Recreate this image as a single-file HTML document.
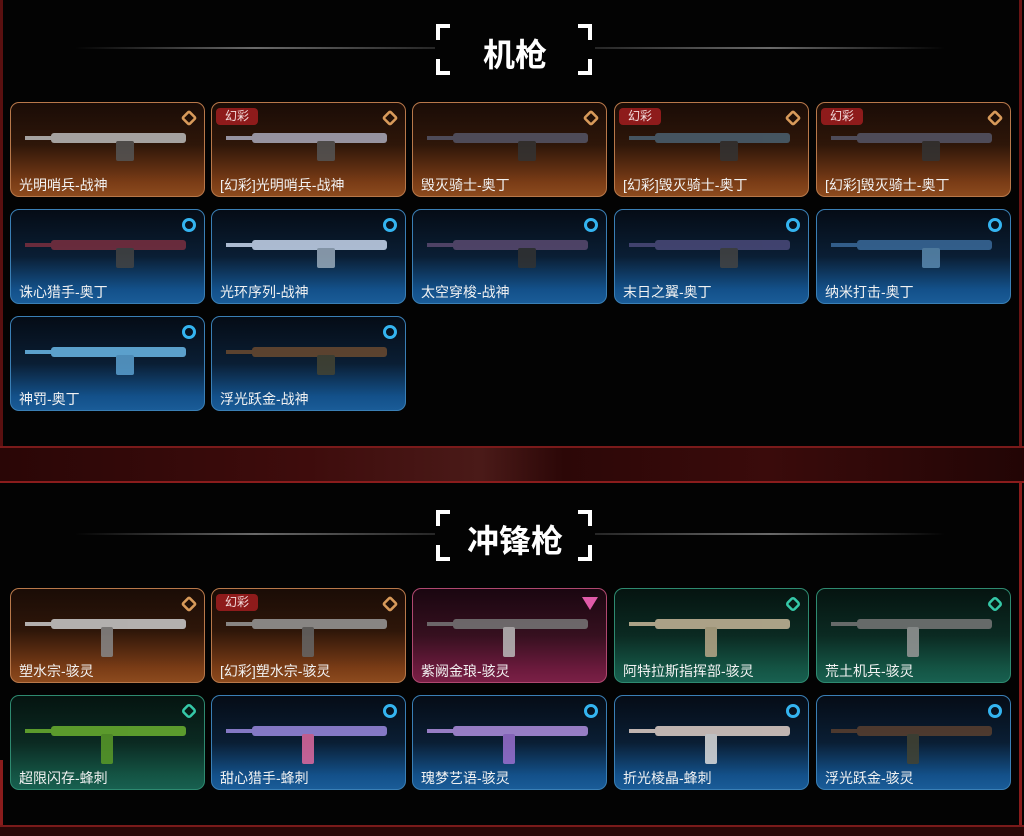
<!DOCTYPE html>
<html><head><meta charset="utf-8"><style>
*{margin:0;padding:0;box-sizing:border-box}
body{width:1024px;height:836px;background:#030303;position:relative;overflow:hidden;font-family:"Liberation Sans","Noto Sans CJK SC",sans-serif;color:#eee}
.band{position:absolute;left:0;width:1024px;top:446px;height:37px;background:linear-gradient(90deg,#2a0606,#3e0c0c 30%,#4a1a18 47%,#2c0707 55%,#3a0b0b 75%,#220505);border-top:2px solid #7a1a1a;border-bottom:2px solid #8a1c1c}
.band2{position:absolute;left:0;width:1024px;top:825px;height:11px;background:#2a0707;border-top:2px solid #7a1a1a}
.vl{position:absolute;width:3px;background:#8a1c1c}
.hl{position:absolute;height:2px;background:linear-gradient(90deg,rgba(120,120,120,0),#6a6a6a 50%,rgba(120,120,120,0.3))}
.hr{position:absolute;height:2px;background:linear-gradient(90deg,rgba(120,120,120,0.3),#6a6a6a 50%,rgba(120,120,120,0))}
.br{position:absolute;width:14px;height:16px;border-color:#fff;border-style:solid;border-width:0}
.title{position:absolute;width:160px;text-align:center;font-size:32px;font-weight:bold;color:#fff}
.c{position:absolute;width:195px;height:95px;border-radius:9px;border:1px solid;overflow:hidden}
.c span.n{position:absolute;left:8px;bottom:1px;font-size:14px;color:#f2f2f2;white-space:nowrap}
.o{border-color:#b8784a;background:linear-gradient(180deg,#1a0c06 0%,#2e1609 45%,#7a3c16 85%,#8c4a1e 100%)}
.b{border-color:#3a7fb5;background:linear-gradient(180deg,#050c16 0%,#0a1e34 50%,#135089 85%,#1a5c98 100%)}
.p{border-color:#b04870;background:linear-gradient(180deg,#1a0610 0%,#36101f 50%,#6a1a3c 85%,#7a2046 100%)}
.gr{border-color:#2e8a70;background:linear-gradient(180deg,#051410 0%,#0b2a22 50%,#145444 85%,#186050 100%)}
.tag{position:absolute;left:4px;top:5px;width:42px;height:17px;border-radius:4px;background:#8e1b1b;font-size:12px;line-height:17px;text-align:center;color:#f3dcdc}
.ic{position:absolute;right:8px;top:8px;width:14px;height:14px}
.ic.oi{border:3px solid #d89a5a;border-radius:3px;transform:rotate(45deg) scale(.85)}
.ic.bi{border:3px solid #34b4f0;border-radius:50%}
.ic.gi{border:3px solid #35c8a8;border-radius:4px;transform:rotate(45deg) scale(.85)}
.ic.pi{width:0;height:0;border-left:8px solid transparent;border-right:8px solid transparent;border-top:13px solid #e05aa8}
.g{position:absolute;left:40px;top:30px;width:135px;height:10px;border-radius:3px;background:var(--gc,#888);opacity:.85}
.g::after{content:"";position:absolute;left:65px;top:8px;width:18px;height:20px;background:var(--gc2,#666);border-radius:2px}
.g::before{content:"";position:absolute;left:-26px;top:3px;width:30px;height:4px;background:var(--gc,#999)}
.s .g::after{left:50px;top:8px;width:12px;height:30px}
</style></head><body>

<div class="vl" style="left:0;top:0;height:446px;background:#5a1010"></div>
<div class="vl" style="left:1019px;top:0;height:446px;background:#6a1414"></div>
<div class="band"></div>
<div class="vl" style="left:1019px;top:483px;height:342px"></div>
<div class="vl" style="left:0;top:760px;height:66px"></div>
<div class="band2"></div>

<div class="hl" style="left:75px;top:47px;width:360px"></div>
<div class="hr" style="left:595px;top:47px;width:350px"></div>
<div class="br" style="left:436px;top:24px;border-left-width:4px;border-top-width:4px"></div>
<div class="br" style="left:578px;top:24px;border-right-width:4px;border-top-width:4px"></div>
<div class="br" style="left:436px;top:59px;border-left-width:4px;border-bottom-width:4px"></div>
<div class="br" style="left:578px;top:59px;border-right-width:4px;border-bottom-width:4px"></div>
<div class="title" style="left:435px;top:30px">机枪</div>

<div class="hl" style="left:75px;top:533px;width:360px"></div>
<div class="hr" style="left:595px;top:533px;width:350px"></div>
<div class="br" style="left:436px;top:510px;border-left-width:4px;border-top-width:4px"></div>
<div class="br" style="left:578px;top:510px;border-right-width:4px;border-top-width:4px"></div>
<div class="br" style="left:436px;top:545px;border-left-width:4px;border-bottom-width:4px"></div>
<div class="br" style="left:578px;top:545px;border-right-width:4px;border-bottom-width:4px"></div>
<div class="title" style="left:435px;top:516px">冲锋枪</div>

<div class="c o" style="left:10px;top:102px"><div class="g" style="--gc:#bbb;--gc2:#555"></div><div class="ic oi"></div><span class="n">光明哨兵-战神</span></div>
<div class="c o" style="left:211px;top:102px"><div class="g" style="--gc:#aab;--gc2:#555"></div><div class="tag">幻彩</div><div class="ic oi"></div><span class="n">[幻彩]光明哨兵-战神</span></div>
<div class="c o" style="left:412px;top:102px"><div class="g" style="--gc:#556;--gc2:#333"></div><div class="ic oi"></div><span class="n">毁灭骑士-奥丁</span></div>
<div class="c o" style="left:614px;top:102px"><div class="g" style="--gc:#4a6070;--gc2:#333"></div><div class="tag">幻彩</div><div class="ic oi"></div><span class="n">[幻彩]毁灭骑士-奥丁</span></div>
<div class="c o" style="left:816px;top:102px"><div class="g" style="--gc:#556;--gc2:#333"></div><div class="tag">幻彩</div><div class="ic oi"></div><span class="n">[幻彩]毁灭骑士-奥丁</span></div>

<div class="c b" style="left:10px;top:209px"><div class="g" style="--gc:#7a3040;--gc2:#444"></div><div class="ic bi"></div><span class="n">诛心猎手-奥丁</span></div>
<div class="c b" style="left:211px;top:209px"><div class="g" style="--gc:#c8d8ee;--gc2:#9ab"></div><div class="ic bi"></div><span class="n">光环序列-战神</span></div>
<div class="c b" style="left:412px;top:209px"><div class="g" style="--gc:#5a4a70;--gc2:#333"></div><div class="ic bi"></div><span class="n">太空穿梭-战神</span></div>
<div class="c b" style="left:614px;top:209px"><div class="g" style="--gc:#4a4a7a;--gc2:#444"></div><div class="ic bi"></div><span class="n">末日之翼-奥丁</span></div>
<div class="c b" style="left:816px;top:209px"><div class="g" style="--gc:#3a6a9a;--gc2:#5a8ab0"></div><div class="ic bi"></div><span class="n">纳米打击-奥丁</span></div>

<div class="c b" style="left:10px;top:316px"><div class="g" style="--gc:#6ab8e8;--gc2:#5aa0d0"></div><div class="ic bi"></div><span class="n">神罚-奥丁</span></div>
<div class="c b" style="left:211px;top:316px"><div class="g" style="--gc:#6a4a30;--gc2:#443"></div><div class="ic bi"></div><span class="n">浮光跃金-战神</span></div>

<div class="c o s" style="left:10px;top:588px"><div class="g" style="--gc:#ccc;--gc2:#888"></div><div class="ic oi"></div><span class="n">塑水宗-骇灵</span></div>
<div class="c o s" style="left:211px;top:588px"><div class="g" style="--gc:#999;--gc2:#666"></div><div class="tag">幻彩</div><div class="ic oi"></div><span class="n">[幻彩]塑水宗-骇灵</span></div>
<div class="c p s" style="left:412px;top:588px"><div class="g" style="--gc:#777;--gc2:#bbb"></div><div class="ic pi"></div><span class="n">紫阙金琅-骇灵</span></div>
<div class="c gr s" style="left:614px;top:588px"><div class="g" style="--gc:#c8b89a;--gc2:#b8a888"></div><div class="ic gi"></div><span class="n">阿特拉斯指挥部-骇灵</span></div>
<div class="c gr s" style="left:816px;top:588px"><div class="g" style="--gc:#777;--gc2:#999"></div><div class="ic gi"></div><span class="n">荒土机兵-骇灵</span></div>

<div class="c gr s" style="left:10px;top:695px"><div class="g" style="--gc:#6ab030;--gc2:#5a9a28"></div><div class="ic gi"></div><span class="n">超限闪存-蜂刺</span></div>
<div class="c b s" style="left:211px;top:695px"><div class="g" style="--gc:#9a8ae0;--gc2:#e06aa0"></div><div class="ic bi"></div><span class="n">甜心猎手-蜂刺</span></div>
<div class="c b s" style="left:412px;top:695px"><div class="g" style="--gc:#b090e0;--gc2:#9a70d0"></div><div class="ic bi"></div><span class="n">瑰梦艺语-骇灵</span></div>
<div class="c b s" style="left:614px;top:695px"><div class="g" style="--gc:#e0d0c8;--gc2:#ddd"></div><div class="ic bi"></div><span class="n">折光棱晶-蜂刺</span></div>
<div class="c b s" style="left:816px;top:695px"><div class="g" style="--gc:#5a4030;--gc2:#443"></div><div class="ic bi"></div><span class="n">浮光跃金-骇灵</span></div>

</body></html>
